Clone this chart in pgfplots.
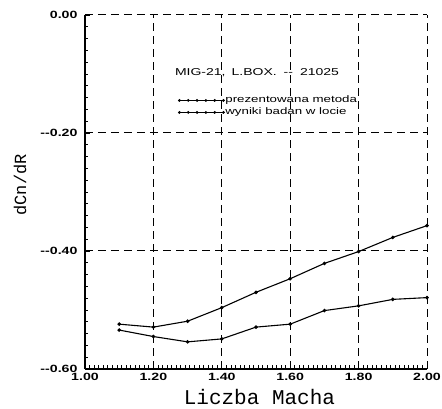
\documentclass[border=0pt]{standalone}
\usepackage{fontspec}
\setmainfont{Liberation Sans}
\newfontfamily\monofont{Liberation Mono}
\newfontfamily\plotfont[FakeStretch=1.4]{Liberation Sans}
\newfontfamily\tickfont[FakeStretch=1.35]{Liberation Sans}
\usepackage{pgfplots}
\pgfplotsset{compat=1.18}

\pgfplotsset{
  dotline/.style={
    black, line width=1.1pt, mark=*, mark size=1.2pt,
    legend image code/.code={
      \draw[black, line width=0.9pt] plot[mark=*, mark size=0.9pt]
        coordinates {(0,0) (8.8pt,0) (17.6pt,0) (26.4pt,0) (35.2pt,0) (44pt,0)};
    },
  },
}

\begin{document}
\begin{tikzpicture}
  \begin{axis}[
      scale only axis,
      width=342pt, height=354pt,
      xmin=1.0, xmax=2.0, ymin=-0.6, ymax=0.0,
      axis x line=bottom, axis y line=left,
      axis line style={-, line width=1.2pt},
      xtick={1.0,1.2,1.4,1.6,1.8,2.0},
      xticklabels={1.00,1.20,1.40,1.60,1.80,2.00},
      ytick={-0.6,-0.4,-0.2,0},
      yticklabels={--0.60,--0.40,--0.20,0.00},
      minor x tick num=14, minor y tick num=9,
      tick align=inside,
      major tick length=5pt, minor tick length=3.5pt,
      tick style={black, line width=0.8pt},
      grid=major,
      major grid style={black, line width=1pt, dash pattern=on 8pt off 5pt},
      ticklabel style={font=\tickfont\bfseries\fontsize{10.5}{11}\selectfont},
      yticklabel style={xshift=-4pt},
      xticklabel style={yshift=-1pt},
      xlabel={Liczba Macha}, ylabel={dCn/dR},
      xlabel style={font=\monofont\fontsize{21}{22}\selectfont,
        at={(axis description cs:0.51,-0.079)}, anchor=center},
      ylabel style={font=\monofont\fontsize{17}{18}\selectfont,
        at={(axis description cs:-0.19,0.52)}, anchor=center},
      legend style={draw=none, fill=none, inner sep=0pt,
        at={(axis cs:1.273,-0.155)}, anchor=west,
        font=\plotfont\fontsize{9.5}{10}\selectfont, row sep=1pt,
        nodes={inner sep=1pt, text height=7pt, text depth=2pt},
        /tikz/every even column/.append style={column sep=0pt}},
      legend cell align=left,
      clip=false,
    ]
    \addplot[dotline] coordinates {
      (1.1,-0.534) (1.2,-0.545) (1.3,-0.554) (1.4,-0.549) (1.5,-0.529)
      (1.6,-0.524) (1.7,-0.501) (1.8,-0.493) (1.9,-0.482) (2.0,-0.479)};
    \addlegendentry{prezentowana metoda}
    \addplot[dotline] coordinates {
      (1.1,-0.524) (1.2,-0.529) (1.3,-0.519) (1.4,-0.496) (1.5,-0.470)
      (1.6,-0.447) (1.7,-0.421) (1.8,-0.401) (1.9,-0.377) (2.0,-0.357)};
    \addlegendentry{wyniki badan w locie}
    \node[font=\plotfont\fontsize{10}{11}\selectfont, anchor=center] at (axis cs:1.503,-0.097)
      {MIG-21,\hspace{6pt}L.BOX.\hspace{7pt}--\hspace{7pt}21025};
  \end{axis}
  \pgfresetboundingbox
  \path[use as bounding box] (-85pt,-40pt) rectangle (357pt,369pt);
\end{tikzpicture}
\end{document}
